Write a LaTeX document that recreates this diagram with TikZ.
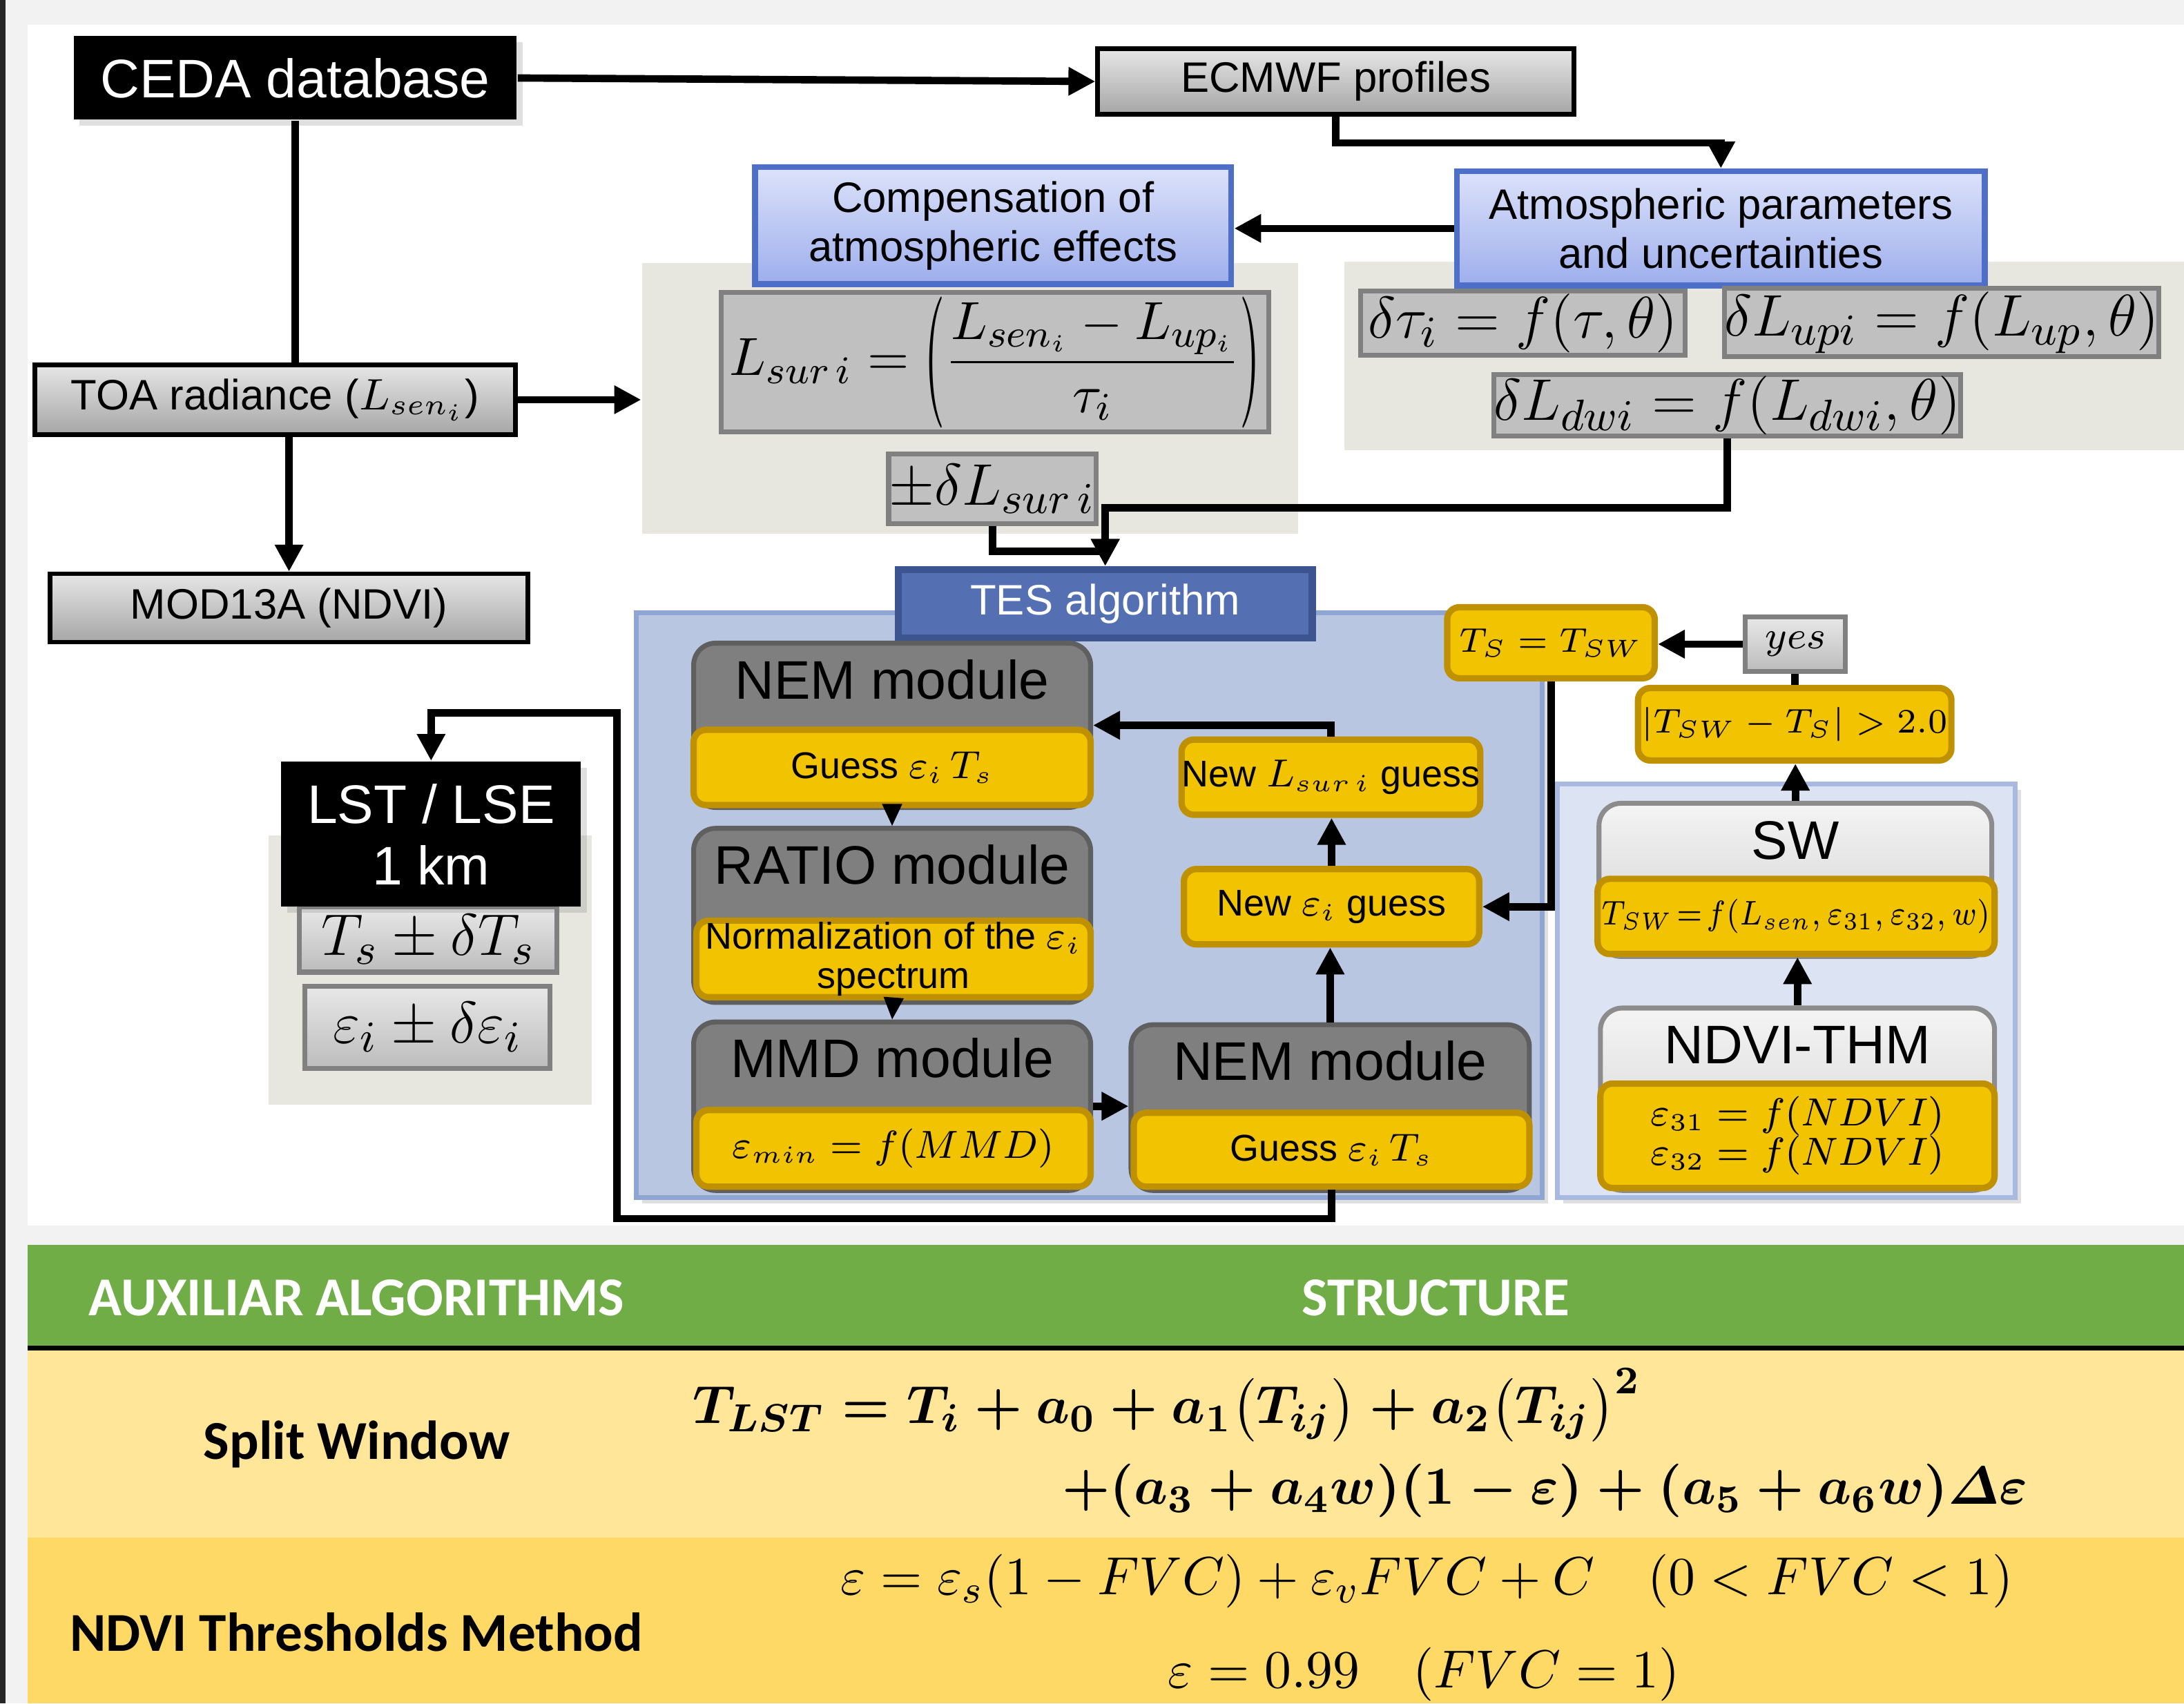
\documentclass[tikz,border=0pt]{standalone}
\usepackage{amsmath}
\usepackage{amssymb}
\usepackage{fontspec}
\setmainfont{Liberation Sans}
\newfontfamily\calibri{Carlito}
\usepackage{tikz}
\usepackage{xcolor}
\usetikzlibrary{positioning, arrows.meta, shadows}

\definecolor{pagegrey}{HTML}{F2F2F2}
\definecolor{beige}{HTML}{E7E7E0}
\definecolor{gradtop}{HTML}{E6E6E6}
\definecolor{gradbot}{HTML}{A6A6A6}
\definecolor{valtop}{HTML}{E8E8E8}
\definecolor{valbot}{HTML}{BCBCBC}
\definecolor{eqgrey}{HTML}{C0C0C0}
\definecolor{eqedge}{HTML}{808080}
\definecolor{bluetop}{HTML}{DCE2FA}
\definecolor{bluebot}{HTML}{9DAEEC}
\definecolor{blueedge}{HTML}{4E6FC7}
\definecolor{tesblue}{HTML}{5470B2}
\definecolor{tesbluedge}{HTML}{3C5490}
\definecolor{tesfill}{HTML}{B8C6E1}
\definecolor{tesedge}{HTML}{8FA6D4}
\definecolor{swfill}{HTML}{DCE3F2}
\definecolor{swedge}{HTML}{A9B9DF}
\definecolor{modgrey}{HTML}{7F7F7F}
\definecolor{modedge}{HTML}{5F5F5F}
\definecolor{lighttop}{HTML}{F4F4F4}
\definecolor{lightbot}{HTML}{CFCFCF}
\definecolor{lightedge}{HTML}{8C8C8C}
\definecolor{yelfill}{HTML}{F2C300}
\definecolor{yeledge}{HTML}{BF9000}
\definecolor{tabgreen}{HTML}{70AD47}
\definecolor{rowa}{HTML}{FFE699}
\definecolor{rowb}{HTML}{FFD966}

\newcommand{\fsBig}{\fontsize{11.1}{12.5}\selectfont}
\newcommand{\fsMid}{\fontsize{8.7}{9.9}\selectfont}
\newcommand{\fsTwo}{\fontsize{8.7}{10}\selectfont}
\newcommand{\fsSmall}{\fontsize{7.6}{8}\selectfont}
\newcommand{\fsTiny}{\fontsize{7.2}{8}\selectfont}
\newcommand{\fsEq}{\fontsize{12.5}{14}\selectfont}
\newcommand{\fsTab}{\calibri\bfseries\fontsize{11.2}{13}\selectfont}
\newcommand{\lparbig}{\mathopen{\vcenter{\hbox{\scalebox{1}[2.45]{$($}}}}}
\newcommand{\rparbig}{\mathclose{\vcenter{\hbox{\scalebox{1}[2.45]{$)$}}}}}

\begin{document}
\begin{tikzpicture}[x=0.1mm, y=-0.1mm,
  every node/.style={inner sep=0pt, font=\fsMid},
  wire/.style={line width=1.5pt},
  arr/.style={line width=1.5pt, -{Triangle[length=5.5pt,width=5.5pt]}},
  smallarr/.style={line width=0.6pt, -{Triangle[length=4.5pt,width=4pt]}},
  softshadow/.style={drop shadow={shadow xshift=1.2pt, shadow yshift=-1.2pt, opacity=0.25}},
  blackbox/.style={fill=black, text=white, font=\fsBig, align=center, softshadow},
  greybox/.style={draw=black, line width=0.9pt, top color=gradtop, bottom color=gradbot},
  bluebox/.style={draw=blueedge, line width=1.2pt, top color=bluetop, bottom color=bluebot, align=center, font=\fsTwo},
  eqbox/.style={fill=eqgrey, draw=eqedge, line width=1pt, font=\fsEq},
  valbox/.style={draw=eqedge, line width=1pt, top color=valtop, bottom color=valbot, font=\fsEq},
  yelbox/.style={fill=yelfill, draw=yeledge, line width=1.3pt, rounded corners=2.5pt, font=\fsSmall, align=center},
  module/.style={fill=modgrey, draw=modedge, line width=1pt, rounded corners=4.5pt, font=\fsBig, anchor=north, text height=4mm, inner ysep=0pt},
  lightmodule/.style={module, draw=lightedge, top color=lighttop, bottom color=lightbot},
  tabhead/.style={text=white, font=\fsTab},
  tablabel/.style={font=\fsTab}]

  % Background
  \fill[pagegrey] (0,0) rectangle (1568,1223);
  \fill[white] (20,18) rectangle (1568,880);
  \fill[black!85] (0,0) rectangle (4,1223);
  \useasboundingbox (0,0) rectangle (1568,1223);

  % Panels
  \node[fill=beige, minimum width=47.1mm, minimum height=19.4mm] (corrbg) at (696.5,286) {};
  \node[fill=beige, minimum width=60.3mm, minimum height=13.5mm] (uncbg) at (1266.5,255.5) {};
  \node[fill=beige, minimum width=23.2mm, minimum height=19.3mm] (outbg) at (309,696.5) {};
  \node[fill=tesfill, draw=tesedge, line width=1pt, softshadow, minimum width=65mm, minimum height=42mm] (tespanel) at (782,650) {};
  \node[fill=swfill, draw=swedge, line width=1pt, softshadow, minimum width=32.9mm, minimum height=29.7mm] (swpanel) at (1282.5,711.5) {};

  % Inputs and atmospheric correction
  \node[blackbox, minimum width=31.8mm, minimum height=6mm] (ceda) at (212,56) {CEDA database};
  \node[greybox, minimum width=34.2mm, minimum height=4.7mm] (ecmwf) at (959,58.5) {ECMWF profiles};
  \node[bluebox, minimum width=34.2mm, minimum height=8.4mm] (comp) at (713,162) {Compensation of\\atmospheric effects};
  \node[bluebox, minimum width=37.9mm, minimum height=8.2mm] (atmo) at (1235.5,164) {Atmospheric parameters\\and uncertainties};
  \node[eqbox, font=\fontsize{10.8}{12}\selectfont, minimum width=39.3mm, minimum height=10mm] (lsur) at (714.5,260)
    {$L_{sur\,i} = \lparbig\dfrac{L_{sen_i} - L_{up_i}}{\tau_i}\rparbig$};
  \node[eqbox, minimum width=14.9mm, minimum height=5mm] (dlsur) at (712.5,351) {$\pm\delta L_{sur\,i}$};
  \node[eqbox, minimum width=23.3mm, minimum height=4.6mm] (dtau) at (1093.5,232) {$\delta\tau_i = f(\tau,\theta)$};
  \node[eqbox, minimum width=31.2mm, minimum height=4.9mm] (dlup) at (1394,231.5) {$\delta L_{upi} = f(L_{up},\theta)$};
  \node[eqbox, minimum width=33.4mm, minimum height=4.4mm] (dldw) at (1240,291) {$\delta L_{dwi} = f(L_{dwi},\theta)$};
  \node[greybox, minimum width=34.5mm, minimum height=5mm] (toa) at (197.5,287) {TOA radiance ($L_{sen_i}$)};
  \node[greybox, minimum width=34.3mm, minimum height=4.9mm] (mod) at (207.5,436.5) {MOD13A (NDVI)};

  % TES algorithm
  \node[fill=tesblue, draw=tesbluedge, line width=1.5pt, text=white, minimum width=29.7mm, minimum height=4.9mm] (tes) at (793.5,433.5) {TES algorithm};
  \node[module, minimum width=28.5mm, text depth=7.8mm] (nem) at (640.5,460) {NEM module};
  \node[yelbox, minimum width=28.5mm, minimum height=5.4mm] (nemg) at (640.5,551) {Guess $\varepsilon_i\,T_s$};
  \node[module, minimum width=28.5mm, text depth=8.5mm] (ratio) at (640.5,593) {RATIO module};
  \node[yelbox, minimum width=28.3mm, minimum height=5.5mm] (ratiog) at (641.5,688.5) {Normalization of the $\varepsilon_i$\\spectrum};
  \node[module, minimum width=28.5mm, text depth=8.1mm] (mmd) at (640.5,732) {MMD module};
  \node[yelbox, minimum width=28.3mm, minimum height=5.5mm] (mmdg) at (641.5,824.5) {$\varepsilon_{min} = f(MMD)$};
  \node[module, minimum width=28.6mm, text depth=7.9mm] (nemb) at (955,734) {NEM module};
  \node[yelbox, minimum width=28.4mm, minimum height=5.3mm] (nembg) at (956,825.5) {Guess $\varepsilon_i\,T_s$};
  \node[yelbox, minimum width=21.2mm, minimum height=5.4mm] (neweps) at (956,651) {New $\varepsilon_i$ guess};
  \node[yelbox, minimum width=21.1mm, minimum height=5.4mm] (newlsur) at (955.5,558) {New $L_{sur\,i}$ guess};

  % Split window check
  \node[yelbox, font=\fsTiny, minimum width=14.9mm, minimum height=5.1mm] (tseq) at (1113.5,461.5) {$T_S = T_{SW}$};
  \node[valbox, font=\fsSmall, minimum width=7.2mm, minimum height=3.9mm] (yes) at (1289,462.5) {$yes$};
  \node[yelbox, font=\fsTiny, minimum width=22.5mm, minimum height=5.2mm] (cond) at (1288.5,520) {$|T_{SW} - T_S| > 2.0$};
  \node[lightmodule, minimum width=28.2mm, text depth=7mm] (sw) at (1289,575) {SW};
  \node[yelbox, font=\fontsize{7}{8}\selectfont, minimum width=28.5mm, minimum height=5.4mm] (swg) at (1289.5,658)
    {\scalebox{0.86}[1]{$T_{SW}\!=\!f(L_{sen},\varepsilon_{31},\varepsilon_{32},w)$}};
  \node[lightmodule, minimum width=28.3mm, text depth=9.1mm] (ndvi) at (1290.5,722) {NDVI-THM};
  \node[yelbox, minimum width=28.3mm, minimum height=7.5mm] (ndvig) at (1290.5,815.5) {$\varepsilon_{31} = f(NDVI)$\\$\varepsilon_{32} = f(NDVI)$};

  % Output
  \node[valbox, minimum width=18.5mm, minimum height=4.7mm] (ts) at (307.5,674.5) {$T_s \pm \delta T_s$};
  \node[valbox, minimum width=17.6mm, minimum height=5.9mm] (eps) at (307,737.5) {$\varepsilon_i \pm \delta\varepsilon_i$};
  \node[blackbox, minimum width=21.5mm, minimum height=10.4mm] (lst) at (309.5,599) {LST / LSE\\1 km};

  % Arrows
  \draw[arr] (ceda.east) -- (ecmwf.west);
  \draw[arr] (ecmwf.south) -- ++(0,19) -| (atmo.north);
  \draw[arr] (atmo.west) -- (atmo.west -| comp.east);
  \draw[wire] (ceda.south) -- (ceda.south |- toa.north);
  \draw[arr] (mod.north |- toa.south) -- (mod.north);
  \draw[arr] (toa.east) -- (toa.east -| corrbg.west);
  \draw[arr] (dlsur.south) -- ++(0,18) -| (tes.north);
  \draw[arr] (dldw.south) -- ++(0,50) -| (tes.north);
  \draw[smallarr] (nemg.south) -- (ratio.north);
  \draw[smallarr] (ratiog.south) -- (mmd.north);
  \draw[arr] (mmd.east) -- (mmd.east -| nemb.west);
  \draw[arr] (nemb.north) -- (nemb.north |- neweps.south);
  \draw[arr] (neweps.north) -- (neweps.north |- newlsur.south);
  \draw[arr] (newlsur.north) |- (nem.east);
  \draw[arr] (tseq.south) |- (neweps.east);
  \draw[arr] (yes.west) -- (yes.west -| tseq.east);
  \draw[wire] (cond.north) -- (cond.north |- yes.south);
  \draw[arr] (sw.north) -- (sw.north |- cond.south);
  \draw[arr] (ndvi.north) -- (ndvi.north |- swg.south);
  \coordinate (loopa) at (443,875);
  \coordinate (loopb) at (443,512);
  \draw[arr] (nembg.south) |- (loopa) -- (loopb) -| (lst.north);

  % Table
  \fill[tabgreen] (20,894) rectangle (1568,966);
  \fill[black] (20,966) rectangle (1568,969.5);
  \fill[rowa] (20,969.5) rectangle (1568,1104);
  \fill[rowb] (20,1104) rectangle (1568,1223);
  \node[tabhead] (hdalg) at (256,932) {AUXILIAR ALGORITHMS};
  \node[tabhead] (hdstr) at (1031,932) {STRUCTURE};
  \node[tablabel] (swlabel) at (256,1037) {Split Window};
  \node[tablabel] (thmlabel) at (256,1172) {NDVI Thresholds Method};
  \node[anchor=base west, font=\fontsize{10.8}{13}\selectfont\boldmath] (sweqa) at (497,1022)
    {$T_{LST} = T_i + a_0 + a_1\bigl(T_{ij}\bigr) + a_2\bigl(T_{ij}\bigr)^2$};
  \node[anchor=base west, font=\fontsize{11}{13}\selectfont\boldmath] (sweqb) at (762,1080)
    {$+(a_3 + a_4 w)(1 - \varepsilon) + (a_5 + a_6 w)\varDelta\varepsilon$};
  \node[anchor=base west, font=\fontsize{10.8}{13}\selectfont] (thmeqa) at (603,1145)
    {$\varepsilon = \varepsilon_s(1 - FVC) + \varepsilon_v FVC + C\quad (0 < FVC < 1)$};
  \node[anchor=base west, font=\fontsize{10.8}{13}\selectfont] (thmeqb) at (838,1212)
    {$\varepsilon = 0.99\quad (FVC = 1)$};
\end{tikzpicture}
\end{document}
